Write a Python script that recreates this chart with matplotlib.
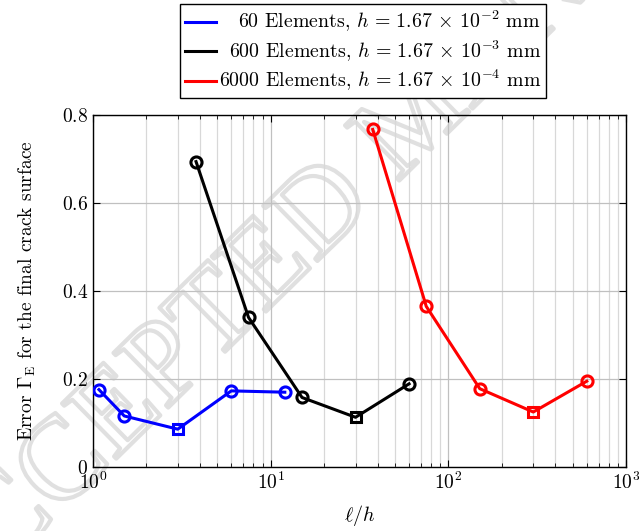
import matplotlib
matplotlib.use("Agg")
import matplotlib.pyplot as plt
import matplotlib.patheffects as pe
from matplotlib.ticker import FixedLocator, FixedFormatter

# police type LaTeX (Computer Modern)
plt.rcParams['font.family'] = 'cmr10'
plt.rcParams['mathtext.fontset'] = 'cm'
plt.rcParams['axes.formatter.use_mathtext'] = True
plt.rcParams['axes.unicode_minus'] = False

# donnees
x_60 = [1.08, 1.5, 3.0, 6.0, 12.0]
y_60 = [0.176, 0.116, 0.086, 0.173, 0.170]
x_600 = [3.8, 7.5, 15.0, 30.0, 60.0]
y_600 = [0.694, 0.340, 0.158, 0.113, 0.189]
x_6000 = [37.5, 75.0, 150.0, 300.0, 600.0]
y_6000 = [0.767, 0.365, 0.178, 0.125, 0.195]
# indice du point marque par un carre (le minimum)
i_min = [2, 3, 3]
labels = [r"60 Elements, $h\,=\,1.67\,\times\,10^{-2}$ mm",
          r"600 Elements, $h\,=\,1.67\,\times\,10^{-3}$ mm",
          r"6000 Elements, $h\,=\,1.67\,\times\,10^{-4}$ mm"]
couleurs = ['#0000ff', 'black', '#ff0000']
y_ticks = [0, 0.2, 0.4, 0.6, 0.8]
y_tick_labels = ['$0$', '$0.2$', '$0.4$', '$0.6$', '$0.8$']

fs = 14.3

fig = plt.figure(figsize=(6.39, 5.31), dpi=100)
ax = fig.add_axes([0.1455, 0.1205, 0.8345, 0.663])
ax.set_facecolor('none')

# filigrane
fig.text(0.657, 0.774, "ACCEPTED MANUSCRIPT", rotation=44.5, rotation_mode='anchor',
         ha='center', va='center', fontsize=85, family='Liberation Serif',
         color='none', zorder=-5,
         path_effects=[pe.Stroke(linewidth=3, foreground='#e0e0e0')])

series = [(x_60, y_60), (x_600, y_600), (x_6000, y_6000)]
lignes = []
for (xs, ys), c, lab, k in zip(series, couleurs, labels, i_min):
    l, = ax.plot(xs, ys, color=c, lw=2.2, label=lab, zorder=3)
    lignes.append(l)
    # cercles sauf au minimum (carre)
    autres = [i for i in range(len(xs)) if i != k]
    ax.plot([xs[i] for i in autres], [ys[i] for i in autres], ls='none',
            marker='o', ms=8, mfc='none', mec=c, mew=2.2, zorder=4)
    ax.plot([xs[k]], [ys[k]], ls='none', marker='s', ms=7.5, mfc='none', mec=c,
            mew=2.2, zorder=4)

ax.set_xscale('log')
ax.set_xlim(1, 1000)
ax.set_ylim(0, 0.8)
ax.yaxis.set_major_locator(FixedLocator(y_ticks))
ax.yaxis.set_major_formatter(FixedFormatter(y_tick_labels))
ax.grid(which='major', color='#c0c0c0', lw=0.9)
ax.grid(which='minor', axis='x', color='#d8d8d8', lw=0.9)
ax.tick_params(which='both', direction='in', top=True, right=True, labelsize=14)
ax.tick_params(which='major', length=5, width=0.8)
ax.tick_params(which='minor', length=3, width=0.6)
for s in ax.spines.values():
    s.set_linewidth(1.0)
ax.set_xlabel(r"$\ell/h$", fontsize=14.5, labelpad=7)
ax.set_ylabel(r"Error $\Gamma_{\mathrm{E}}$ for the final crack surface", fontsize=14,
              labelpad=17)

leg = fig.legend(handles=lignes, loc='upper center', bbox_to_anchor=(0.568, 0.992),
                 fontsize=fs, frameon=True, fancybox=False, edgecolor='black',
                 framealpha=1, handlelength=1.55, handletextpad=0.15, labelspacing=0.22,
                 borderpad=0.25, borderaxespad=0)
leg.get_frame().set_linewidth(1.0)

# alignement a droite des textes de la legende
fig.canvas.draw()
r = fig.canvas.get_renderer()
largeurs = [t.get_window_extent(r).width for t in leg.get_texts()]
for t, w in zip(leg.get_texts(), largeurs):
    t.set_x(max(largeurs) - w)

fig.savefig('out.png', dpi=100)
